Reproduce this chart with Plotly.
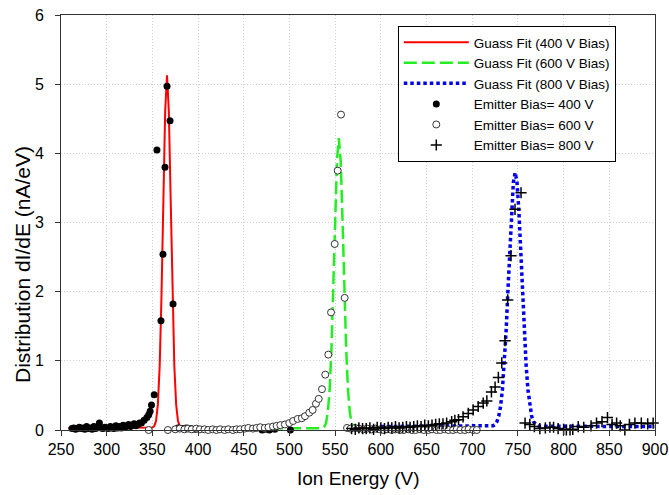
import plotly.graph_objects as go

# ---------------- data ----------------
# Gaussian fit curves (sampled)
fit400_x = [258, 300, 340, 348, 350, 352, 354, 356, 358, 360, 362, 364, 366, 368, 370, 372, 374, 376, 378, 380, 382, 384, 410]
fit400_y = [0.03, 0.03, 0.03, 0.03, 0.035, 0.055, 0.13, 0.37, 0.93, 1.96, 3.34, 4.61, 5.13, 4.61, 3.34, 1.96, 0.93, 0.37, 0.13, 0.055, 0.035, 0.03, 0.03]

fit600_x = [400, 500, 530, 536, 538, 540, 542, 544, 546, 548, 550, 552, 554, 556, 558, 560, 562, 564, 566, 568, 570, 572, 600]
fit600_y = [0.02, 0.02, 0.02, 0.026, 0.045, 0.10, 0.26, 0.59, 1.19, 2.06, 3.07, 3.90, 4.22, 3.90, 3.07, 2.06, 1.19, 0.59, 0.26, 0.10, 0.045, 0.026, 0.02]

fit800_x = [600, 700, 715, 721, 723, 725, 727, 729, 731, 733, 735, 737, 739, 741, 743, 745, 747, 749, 751, 753, 755, 757, 759, 761, 763, 765, 767, 769, 771, 773, 900]
fit800_y = [0.05, 0.05, 0.05, 0.055, 0.062, 0.08, 0.12, 0.20, 0.34, 0.58, 0.93, 1.41, 2.00, 2.62, 3.18, 3.58, 3.72, 3.58, 3.18, 2.62, 2.00, 1.41, 0.93, 0.58, 0.34, 0.20, 0.12, 0.08, 0.062, 0.055, 0.05]

# Measured data: Emitter Bias = 400 V (filled dots)
e400_x = [262, 264, 266, 268, 270, 272, 274, 276, 278, 280, 282, 284, 286, 288, 290, 292, 294, 296, 298, 300,
          302, 304, 306, 308, 310, 312, 314, 316, 318, 320, 322, 324, 326, 328, 330, 332, 334, 336, 338, 341,
          344, 346, 347.5, 349, 352, 355, 359.4, 361.6, 363.8, 366, 369.3, 372.6,
          378, 383, 387, 392, 397, 470, 474, 478, 484, 501]
e400_y = [0.02, 0.03, 0.01, 0.02, 0.04, 0.02, 0.03, 0.01, 0.05, 0.02, 0.03, 0.01, 0.05, 0.02, 0.04, 0.10, 0.03, 0.02, 0.04, 0.03,
          0.02, 0.05, 0.03, 0.02, 0.06, 0.03, 0.05, 0.03, 0.07, 0.04, 0.06, 0.08, 0.05, 0.07, 0.09, 0.06, 0.08, 0.10, 0.10, 0.14,
          0.18, 0.22, 0.27, 0.36, 0.51, 4.05, 1.58, 2.54, 3.80, 4.97, 4.47, 1.82,
          0.03, 0.02, 0.03, 0.02, 0.01, 0.0, 0.01, 0.0, 0.01, 0.0]

# Emitter Bias = 600 V (open circles)
e600_x = [346, 367, 375, 380, 385, 389, 393, 398, 402, 407, 411, 416, 420, 424, 429, 433, 438, 442, 446, 451,
          455, 460, 464, 468, 473, 477, 482, 486, 490, 495, 499.8, 504, 509, 513.6, 517, 521.7, 525.4, 529, 532, 535.6,
          539.2, 542.5, 545.5, 549.5, 552.8, 556.4, 560.4,
          563, 567, 572, 576, 581, 585, 590, 594, 599, 603, 607, 612, 616, 621, 625, 630, 634, 638, 643, 647,
          652, 656, 661, 665, 670, 674, 679, 683, 687, 692, 696, 701, 705]
e600_y = [0.0, 0.0, 0.01, 0.02, 0.01, 0.02, 0.01, 0.02, 0.01, 0.01, 0.0, 0.01, 0.0, 0.01, 0.0, 0.01, 0.0, 0.01, 0.01, 0.02,
          0.03, 0.02, 0.03, 0.04, 0.03, 0.04, 0.05, 0.06, 0.07, 0.08, 0.10, 0.13, 0.16, 0.17, 0.20, 0.25, 0.29, 0.38, 0.45, 0.59,
          0.80, 1.09, 1.70, 2.69, 3.75, 4.56, 1.91,
          0.03, 0.02, 0.03, 0.02, 0.01, 0.02, 0.01, 0.02, 0.01, 0.0, 0.01, 0.0, 0.01, 0.0, 0.0, 0.01, 0.0, 0.0, 0.01, 0.0,
          0.0, 0.01, 0.0, 0.0, 0.01, 0.0, 0.0, 0.01, 0.0, 0.0, 0.01, 0.0, 0.0]

# Emitter Bias = 800 V (crosses)
e800_x = [568, 572, 576, 580, 584, 588, 592, 596, 600, 604, 608, 612, 616, 620, 624, 628, 632, 636, 640, 644,
          648, 652, 656, 660, 664, 668, 672, 677.5, 681, 685, 690, 695.7, 701, 706.5, 712, 716, 721, 725, 728.6, 732.3,
          735.9, 738.8, 742.4, 746.8, 750.5, 753.4, 757.8, 763, 768, 774, 780, 785, 789, 794, 800, 803, 807, 810, 816, 822,
          830, 836, 842, 848, 853, 858, 862, 867, 872, 878, 885, 892, 898]
e800_y = [0.02, 0.01, 0.03, 0.02, 0.02, 0.03, 0.01, 0.04, 0.03, 0.02, 0.04, 0.03, 0.05, 0.03, 0.04, 0.05, 0.04, 0.05, 0.06, 0.05,
          0.07, 0.06, 0.07, 0.08, 0.09, 0.09, 0.10, 0.12, 0.14, 0.15, 0.19, 0.24, 0.29, 0.34, 0.39, 0.42, 0.55, 0.62, 0.76, 0.97,
          1.29, 1.88, 2.52, 3.19, 4.01, 3.43, 0.10, 0.08, 0.05, 0.02, 0.03, 0.04, 0.04, 0.02, 0.01, 0.0, 0.0, 0.01, 0.05, 0.04,
          0.06, 0.10, 0.12, 0.18, 0.08, 0.10, 0.06, 0.0, 0.08, 0.10, 0.10, 0.09, 0.10]

x_ticks = [250, 300, 350, 400, 450, 500, 550, 600, 650, 700, 750, 800, 850, 900]
y_ticks = [0, 1, 2, 3, 4, 5, 6]

FONT = "Arial, Liberation Sans, sans-serif"

fig = go.Figure()
fig.add_trace(go.Scatter(x=fit400_x, y=fit400_y, mode="lines", name="Guass Fit (400 V Bias)",
                         line=dict(color="#ff0000", width=2)))
fig.add_trace(go.Scatter(x=fit600_x, y=fit600_y, mode="lines", name="Guass Fit (600 V Bias)",
                         line=dict(color="#22ee22", width=2.5, dash="13px,5px")))
fig.add_trace(go.Scatter(x=fit800_x, y=fit800_y, mode="lines", name="Guass Fit (800 V Bias)",
                         line=dict(color="#0000ee", width=3.5, dash="3.5px,3px")))
fig.add_trace(go.Scatter(x=e400_x, y=e400_y, mode="markers", name="Emitter Bias= 400 V", cliponaxis=False,
                         marker=dict(symbol="circle", size=7, color="black")))
fig.add_trace(go.Scatter(x=e600_x, y=e600_y, mode="markers", name="Emitter Bias= 600 V", cliponaxis=False,
                         marker=dict(symbol="circle", size=7, color="white", line=dict(color="#333333", width=1))))
fig.add_trace(go.Scatter(x=e800_x, y=e800_y, mode="markers", name="Emitter Bias= 800 V", cliponaxis=False,
                         marker=dict(symbol="cross-thin", size=8, line=dict(color="black", width=1.5))))

axis_common = dict(showline=True, linecolor="#333333", linewidth=1, mirror=True,
                   ticks="outside", ticklen=5, tickcolor="#333333",
                   showgrid=True, gridcolor="#cfcfcf", griddash="1px,2px", gridwidth=1,
                   zeroline=False, automargin=False,
                   tickfont=dict(family=FONT, size=16, color="black"))

fig.update_xaxes(range=[250, 900], tickvals=x_ticks, ticktext=[str(v) for v in x_ticks], **axis_common)
fig.update_yaxes(range=[0, 6], tickvals=y_ticks, ticktext=[str(v) for v in y_ticks],
                 ticklabelstandoff=8, **axis_common)

fig.add_annotation(text="Ion Energy (V)", xref="paper", yref="paper", x=0.5, y=-0.118,
                   xanchor="center", yanchor="middle", showarrow=False,
                   font=dict(family=FONT, size=19, color="black"))
fig.add_annotation(text="Distribution dI/dE (nA/eV)", xref="paper", yref="paper", x=-0.0657, y=0.40,
                   xanchor="center", yanchor="middle", textangle=-90, showarrow=False,
                   font=dict(family=FONT, size=21, color="black"))

fig.update_layout(
    width=669, height=495,
    margin=dict(l=61, r=14, t=15, b=65, autoexpand=False),
    plot_bgcolor="white", paper_bgcolor="white",
    font=dict(family=FONT, color="black"),
    legend=dict(x=0.567, y=0.9735, xanchor="left", yanchor="top",
                bgcolor="white", bordercolor="black", borderwidth=1,
                font=dict(family=FONT, size=13.5, color="black"),
                itemwidth=65, tracegroupgap=0),
    showlegend=True,
)

fig.write_html("out.html", config={"displayModeBar": False},
               post_script="document.body.style.margin='0px';document.body.style.padding='0px';")
